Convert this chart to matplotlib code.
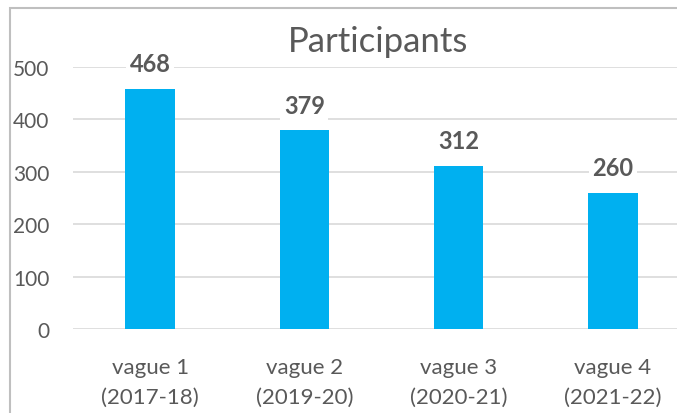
import matplotlib.pyplot as plt
from matplotlib.patches import Rectangle

# données
categories = ["vague 1\n(2017-18)", "vague 2\n(2019-20)", "vague 3\n(2020-21)", "vague 4\n(2021-22)"]
valeurs = [458, 379, 312, 260]
etiquettes = ["468", "379", "312", "260"]
yticks = [0, 100, 200, 300, 400, 500]

gris = "#595959"
plt.rcParams['font.family'] = ['Lato', 'DejaVu Sans']

W, H = 677, 414
fig = plt.figure(figsize=(W / 100, H / 100), dpi=100)
ax = fig.add_axes([73 / W, 1 - 330 / H, 617 / W, 262 / H])

x = range(len(categories))
bars = ax.bar(x, valeurs, width=0.32, color="#00B0F0", zorder=2)

for b, lab in zip(bars, etiquettes):
    ax.annotate(lab, (b.get_x() + b.get_width() / 2, b.get_height()),
                xytext=(0, 10), textcoords="offset points", ha="center", va="bottom",
                fontsize=17, fontweight="bold", color=gris, zorder=4,
                bbox=dict(boxstyle="square,pad=0.15", fc="white", ec="none"))

ax.set_xlim(-0.5, 3.5)
ax.set_ylim(0, 500)
ax.set_yticks(yticks)
ax.set_xticks(list(x))
ax.set_xticklabels(categories, fontsize=16, color=gris, linespacing=1.6)
ax.tick_params(axis="y", labelsize=15, labelcolor=gris, length=0, pad=17)
ax.tick_params(axis="x", length=0, pad=20)
ax.yaxis.grid(True, color="#D9D9D9", linewidth=1.2, zorder=0)
ax.set_axisbelow(True)
for s in ax.spines.values():
    s.set_visible(False)

fig.text(378 / W, 1 - 42 / H, "Participants", fontsize=25, color=gris, ha="center", va="center")

# cadre du graphique
fig.patches.append(Rectangle((10 / W, -0.1), 1.2, 1 - 9 / H + 0.1, transform=fig.transFigure,
                             fill=False, ec="#BFBFBF", lw=1.5))

fig.savefig("out.png", dpi=100)
